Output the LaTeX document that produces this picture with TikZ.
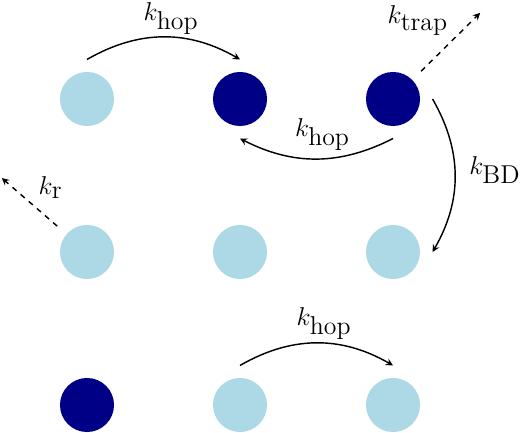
\documentclass[tikz,border=0pt]{standalone}
\usetikzlibrary{positioning, arrows}
\definecolor{lightsite}{RGB}{173,216,230}
\definecolor{darksite}{RGB}{0,0,135}

\begin{document}
\begin{tikzpicture}[node distance=3cm, on grid, auto, >=stealth, thick,
    font=\Large,
    site/.style={circle, fill=lightsite, minimum size=1.06cm, inner sep=0pt, outer sep=0.245cm},
    trapped/.style={site, fill=darksite}]
   \useasboundingbox (-1.706,1.941) rectangle (8.490,-6.549);
   \node[site] (s11) {};
   \node[trapped] (s12) [right=of s11] {};
   \node[trapped] (s13) [right=of s12] {};
   \node[site] (s21) [below=of s11] {};
   \node[site] (s22) [right=of s21] {};
   \node[site] (s23) [right=of s22] {};
   \node[trapped] (s31) [below=of s21] {};
   \node[site] (s32) [right=of s31] {};
   \node[site] (s33) [right=of s32] {};
   \coordinate[above right=1.69cm and 1.71cm of s13] (trap);
   \coordinate[above left=1.45cm and 1.67cm of s21] (recomb);

   \path[->]
    (s11.north) edge [bend left=30] node [pos=0.55, above, yshift=-0.08cm] {$k_{\textrm{hop}}$} (s12.north)
    (s13.south) edge [bend left=27] node [pos=0.46, above, yshift=0.02cm] {$k_{\textrm{hop}}$} (s12.south)
    (s32.north) edge [bend left=30] node [pos=0.55, above, yshift=-0.06cm] {$k_{\textrm{hop}}$} (s33.north)
    (s13.east) edge [bend left=30] node [xshift=0.15cm, yshift=0.1cm] {$k_{\textrm{BD}}$} (s23.east)
    (s13) edge [dashed] node [xshift=0.08cm] {$k_{\textrm{trap}}$} (trap)
    (s21) edge [dashed] node [swap, xshift=0.05cm, yshift=-0.06cm] {$k_{\textrm{r}}$} (recomb);
\end{tikzpicture}
\end{document}
